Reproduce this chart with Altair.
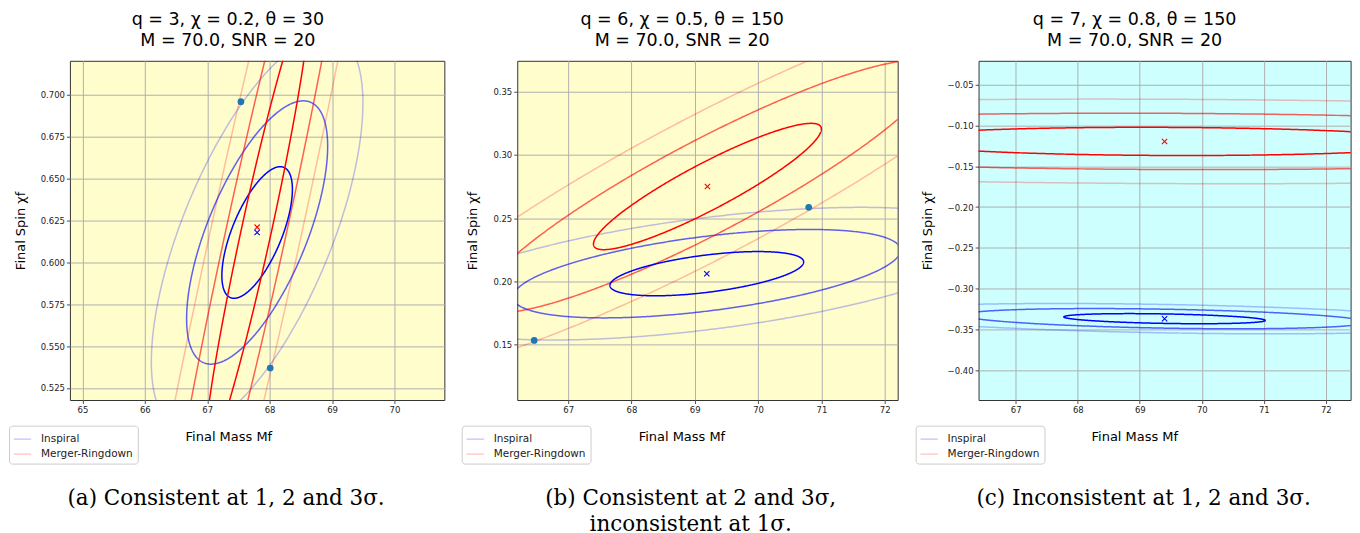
import numpy as np
import pandas as pd
import altair as alt

# ---------------- panel texts ----------------
panel_titles = [
    ["q = 3, χ = 0.2, θ = 30", "M = 70.0, SNR = 20"],
    ["q = 6, χ = 0.5, θ = 150", "M = 70.0, SNR = 20"],
    ["q = 7, χ = 0.8, θ = 150", "M = 70.0, SNR = 20"],
]
captions = [
    ["(a) Consistent at 1, 2 and 3σ."],
    ["(b) Consistent at 2 and 3σ,", "inconsistent at 1σ."],
    ["(c) Inconsistent at 1, 2 and 3σ."],
]
series_names = ["Inspiral", "Merger-Ringdown"]
series_colors = ["#0000ff", "#ff0000"]

# ---------------- axes ----------------
x_domains = [[64.80, 70.80], [66.196, 72.205], [66.40, 72.40]]
y_domains = [[0.5178, 0.7203], [0.106, 0.3745], [-0.4368, -0.0206]]
x_ticks = [[65, 66, 67, 68, 69, 70], [67, 68, 69, 70, 71, 72], [67, 68, 69, 70, 71, 72]]
y_ticks = [
    [0.525, 0.550, 0.575, 0.600, 0.625, 0.650, 0.675, 0.700],
    [0.15, 0.20, 0.25, 0.30, 0.35],
    [-0.40, -0.35, -0.30, -0.25, -0.20, -0.15, -0.10, -0.05],
]
y_formats = [".3f", ".2f", ".2f"]
backgrounds = ["#fffdcc", "#fffdcc", "#ccfffe"]

# ---------------- confidence ellipses (1-sigma parameters) ----------------
ell_panel = [0, 0, 1, 1, 2, 2]
ell_series = ["Inspiral", "Merger-Ringdown"] * 3
ell_cx = [67.80, 67.80, 69.19, 69.20, 69.40, 69.40]
ell_cy = [0.6178, 0.6210, 0.2060, 0.2750, -0.3370, -0.1195]
ell_sx = [0.565, 0.836, 1.53, 1.80, 1.625, 4.50]
ell_sy = [0.0393, 0.137, 0.0175, 0.050, 0.0062, 0.0173]
ell_rho = [0.655, 0.956, 0.53, 0.91, -0.35, -0.08]
sigma_levels = [1, 2, 3]
level_alpha = [1.0, 0.62, 0.25]

# extra points on the outer inspiral contour
dot_panel = [0, 0, 1, 1]
dot_x = [67.54, 68.01, 70.80, 66.464]
dot_y = [0.6959, 0.5369, 0.2585, 0.1532]

# ---------------- layout numbers ----------------
panel_w = [375, 381, 372.6]
gap_w = [73, 80.4]
panel_h = 339.7
title_dx = [-29.3, -25.3, -30.0]
xtitle_x = [158.7, 164.4, 156.0]
caption_x = [156.4, 173.7, 165.3]
legend_x = [-61.0, -55.6, -63.0]
legend_y = 365.4

t = np.linspace(0, 2 * np.pi, 721)
rows = []
for j in range(len(ell_panel)):
    r = ell_rho[j]
    for k, a in zip(sigma_levels, level_alpha):
        xs = ell_cx[j] + k * ell_sx[j] * np.cos(t)
        ys = ell_cy[j] + k * ell_sy[j] * (r * np.cos(t) + np.sqrt(1 - r * r) * np.sin(t))
        col = series_colors[series_names.index(ell_series[j])]
        for tt, xv, yv in zip(t, xs, ys):
            rows.append(dict(panel=ell_panel[j], series=ell_series[j], cid=f"{j}-{k}",
                             k=k, alpha=a, lcolor=col, t=tt, x=xv, y=yv))
contours = pd.DataFrame(rows)

centers = pd.DataFrame(dict(panel=ell_panel, x=ell_cx, y=ell_cy,
                            mcolor=[series_colors[series_names.index(s)] for s in ell_series]))
dots = pd.DataFrame(dict(panel=dot_panel, x=dot_x, y=dot_y))

FONT = "DejaVu Sans"


def make_panel(i):
    xs = alt.Scale(domain=x_domains[i], nice=False, zero=False)
    ys = alt.Scale(domain=y_domains[i], nice=False, zero=False)
    xaxis = alt.Axis(values=x_ticks[i], format="d", title="Final Mass Mf",
                     titleX=xtitle_x[i], titleAnchor="middle", titleAlign="center")
    yaxis = alt.Axis(values=y_ticks[i], format=y_formats[i], title="Final Spin χf")
    legend = alt.Legend(
        orient="none", legendX=legend_x[i], legendY=legend_y, title=None,
        direction="vertical", fillColor="white", strokeColor="#cccccc",
        cornerRadius=3, padding=4, symbolType="stroke", symbolSize=300,
        symbolStrokeWidth=1.5, symbolOpacity=0.2, labelFont=FONT,
        labelFontSize=10.5, labelColor="#222222", labelOffset=9, rowPadding=0,
    )
    cdf = contours[contours.panel == i]
    # outermost (3 sigma) contours carry the legend
    outer = alt.Chart(cdf[cdf.k == 3]).mark_line(
        clip=True, strokeWidth=1.5, opacity=level_alpha[2]
    ).encode(
        x=alt.X("x:Q", scale=xs, axis=xaxis),
        y=alt.Y("y:Q", scale=ys, axis=yaxis),
        color=alt.Color("series:N", scale=alt.Scale(domain=series_names, range=series_colors),
                        legend=legend),
        detail="cid:N",
        order="t:Q",
    )
    layers = [outer]
    for k in [2, 1]:
        layers.append(alt.Chart(cdf[cdf.k == k]).mark_line(
            clip=True, strokeWidth=1.5, opacity=level_alpha[k - 1]
        ).encode(
            x="x:Q", y="y:Q",
            stroke=alt.Stroke("lcolor:N", scale=None),
            detail="cid:N",
            order="t:Q",
        ))
    layers.append(alt.Chart(centers[centers.panel == i]).mark_point(
        shape="M-1,-1L1,1M-1,1L1,-1", filled=False, size=28, strokeWidth=1.1, opacity=1
    ).encode(x="x:Q", y="y:Q", stroke=alt.Stroke("mcolor:N", scale=None)))
    ddf = dots[dots.panel == i]
    if len(ddf):
        layers.append(alt.Chart(ddf).mark_circle(size=45, color="#1f77b4", opacity=1)
                      .encode(x="x:Q", y="y:Q"))
    cap = alt.Chart(pd.DataFrame({"a": [0]})).mark_text(
        text=captions[i], font="DejaVu Serif", fontSize=21.5, lineHeight=26,
        align="center", baseline="alphabetic", color="black"
    ).encode(x=alt.value(caption_x[i]), y=alt.value(444.7))
    layers.append(cap)
    return alt.layer(*layers).properties(
        width=panel_w[i], height=panel_h,
        view=alt.ViewBackground(fill=backgrounds[i], stroke="#333333", strokeWidth=1),
        title=alt.TitleParams(text=panel_titles[i], font=FONT, fontSize=17.5,
                              fontWeight="normal", lineHeight=21, anchor="middle",
                              dx=title_dx[i], offset=11, color="black"),
    )


def spacer(w):
    return alt.Chart(pd.DataFrame({"a": [0]})).mark_point(opacity=0).encode(
        x=alt.value(0), y=alt.value(0)
    ).properties(width=w, height=panel_h,
                 view=alt.ViewBackground(strokeWidth=0, fillOpacity=0, strokeOpacity=0))


p = [make_panel(i) for i in range(3)]
chart = alt.hconcat(p[0], spacer(gap_w[0]), p[1], spacer(gap_w[1]), p[2],
                    spacing=0, bounds="flush").resolve_scale(
    color="independent").resolve_legend(color="independent")

chart = chart.properties(padding={"top": 2.5, "left": 0, "right": 0, "bottom": 0}).configure_axis(
    labelFont=FONT, labelFontSize=8.5, labelColor="#222222",
    titleFont=FONT, titleFontSize=13, titleFontWeight="normal", titleColor="black",
    grid=True, gridColor="#b0b0b0", gridWidth=1, domain=False,
    tickColor="#222222", tickSize=3.5, tickWidth=0.8, labelPadding=2,
).configure_axisX(titlePadding=17).configure_axisY(titlePadding=13).configure_view(
    stroke="#333333"
)

chart.save("out.html", embed_options={"renderer": "svg", "actions": False})
